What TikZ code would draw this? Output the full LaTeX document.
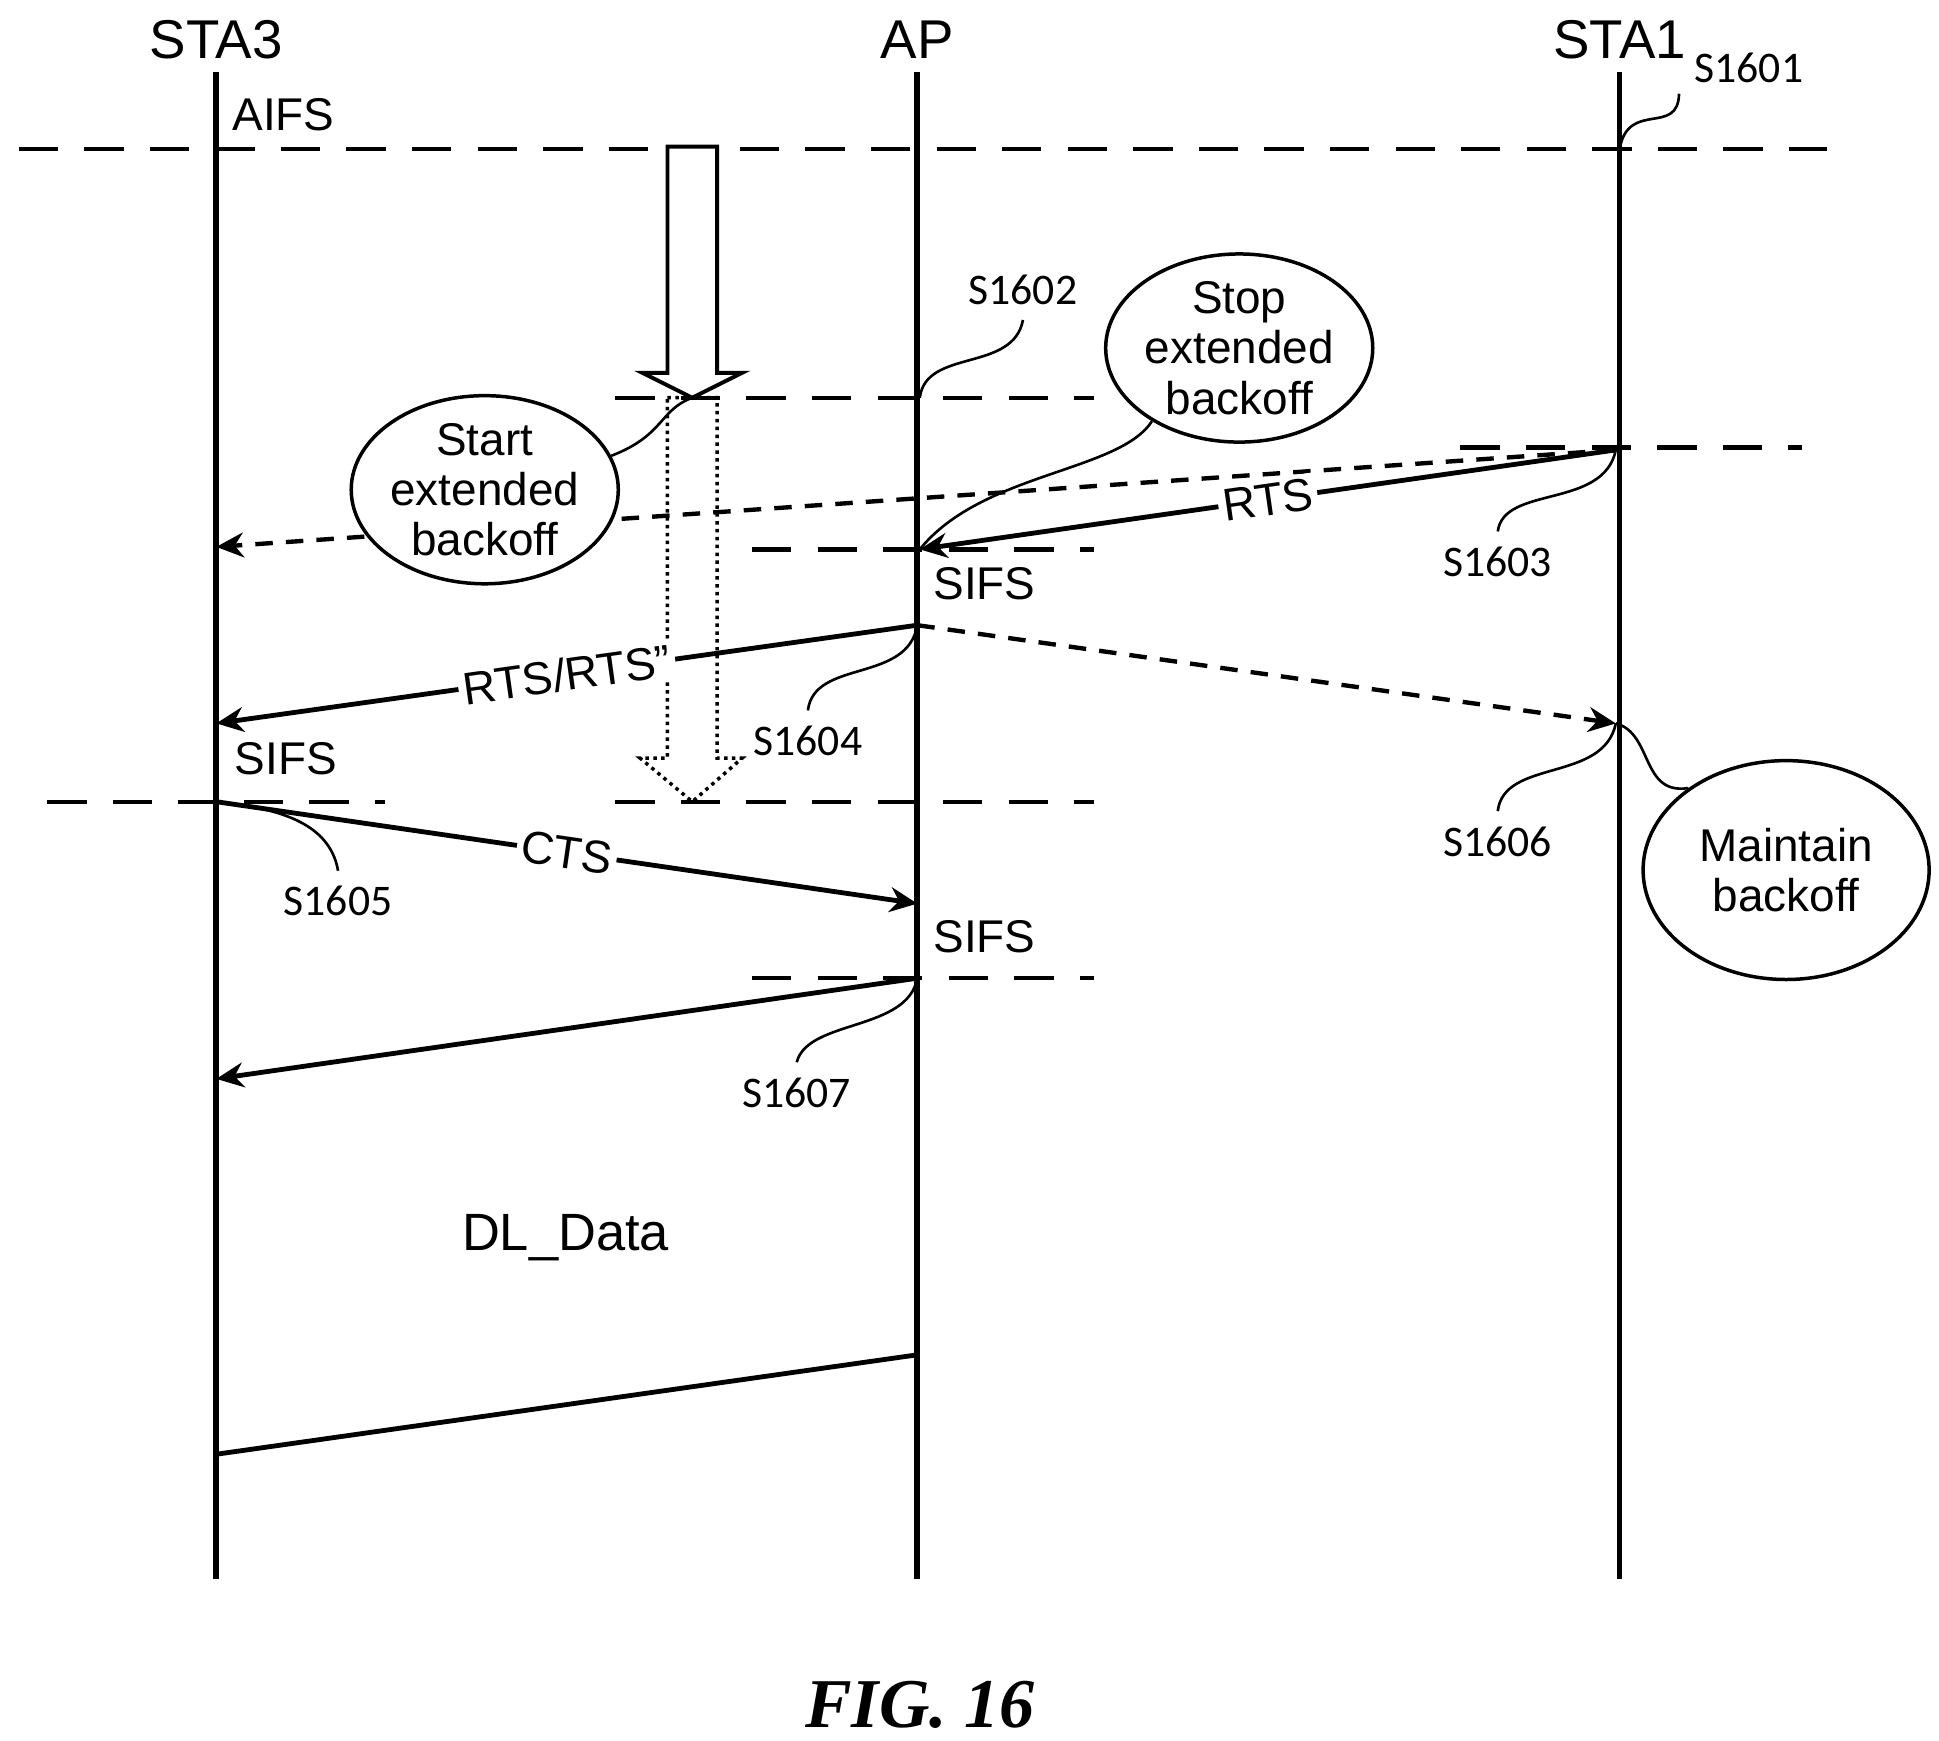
\documentclass[tikz,border=0pt]{standalone}
\usepackage{fontspec}
\setmainfont{Liberation Sans}
\newfontfamily\stepfont{Carlito}
\newfontfamily\figfont{Liberation Serif}
\usetikzlibrary{arrows.meta,shapes.geometric}
\tikzset{
  life/.style={line width=1.3pt},
  msg/.style={line width=1.1pt,-{Stealth[length=2.2mm,width=2mm]}},
  dmsg/.style={line width=1pt,dash pattern=on 4pt off 3pt,-{Stealth[length=2.2mm,width=2mm]}},
  tline/.style={line width=1pt,dash pattern=on 9pt off 6pt},
  lead/.style={line width=0.6pt},
  steplbl/.style={font=\stepfont\fontsize{10}{12}\selectfont},
  lbl/.style={font=\fontsize{10.5}{12.5}\selectfont},
  bub/.style={ellipse,draw,line width=0.8pt,align=center,font=\fontsize{10.5}{11.5}\selectfont,inner sep=0pt}
}
\begin{document}
\begin{tikzpicture}[x=0.01cm,y=-0.01cm]
	\useasboundingbox (0,0) rectangle (1560,1400);
	% lifelines
	\node[font=\fontsize{12.5}{15}\selectfont] (sta3) at (174,32) {STA3};
	\node[font=\fontsize{12.5}{15}\selectfont] (ap) at (738,32) {AP};
	\node[font=\fontsize{12.5}{15}\selectfont] (sta1) at (1303,32) {STA1};
	\draw[life] (174,58) -- (174,1270);
	\draw[life] (738,58) -- (738,1270);
	\draw[life] (1303,58) -- (1303,1270);
	% time marks
	\draw[tline] (15,120) -- (1470,120);
	\draw[tline] (495,320) -- (880,320);
	\draw[tline] (1175,360) -- (1450,360);
	\draw[tline] (605,442) -- (880,442);
	\draw[tline] (38,645) -- (310,645);
	\draw[tline] (495,645) -- (880,645);
	\draw[tline] (605,787) -- (880,787);
	% backoff arrows
	\draw[line width=0.9pt,fill=white] (537,118) -- (577,118) -- (577,300) -- (597,300) -- (557,320) -- (517,300) -- (537,300) -- cycle;
	\draw[line width=0.8pt,densely dotted] (537,320) -- (577,320) -- (577,610) -- (597,610) -- (557,645) -- (515,610) -- (537,610) -- cycle;
	% coordinates
	\coordinate (S1a) at (1300,362);
	\coordinate (APa) at (740,442);
	\coordinate (S3a) at (174,440);
	\coordinate (APb) at (738,503);
	\coordinate (S3b) at (174,582);
	\coordinate (S1b) at (1300,582);
	\coordinate (S3c) at (174,645);
	\coordinate (APc) at (738,727);
	\coordinate (APd) at (738,787);
	\coordinate (S3d) at (174,868);
	\coordinate (APe) at (738,1090);
	\coordinate (S3e) at (174,1170);
	% messages
	\draw[dmsg] (S1a) -- (S3a);
	\draw[msg] (S1a) -- node[sloped,fill=white,inner sep=1pt,lbl,pos=0.5] {RTS} (APa);
	\draw[dmsg] (APb) -- (S1b);
	\draw[msg] (APb) -- node[sloped,fill=white,inner sep=1pt,lbl,pos=0.5] {RTS/RTS''} (S3b);
	\draw[msg] (S3c) -- node[sloped,fill=white,inner sep=1pt,lbl,pos=0.5] {CTS} (APc);
	\draw[msg] (APd) -- (S3d);
	\draw[line width=1.1pt] (APe) -- (S3e);
	% bubbles
	\node[bub,minimum width=1.94cm,minimum height=1.5cm,fill=white] (start) at (390,394) {Start\\extended\\backoff};
	\node[bub,minimum width=1.94cm,minimum height=1.5cm,fill=white] (stop) at (997,280) {Stop\\extended\\backoff};
	\node[bub,minimum width=2.3cm,minimum height=1.76cm] (maint) at (1437,700) {Maintain\\backoff};
	\draw[lead] (557,320) .. controls (530,330) and (535,350) .. (start.15);
	\draw[lead] (stop.220) .. controls (900,380) and (790,380) .. (APa);
	\draw[lead] (S1b) .. controls (1330,590) and (1320,640) .. (maint.140);
	% texts
	\node[lbl] (aifs) at (228,92) {AIFS};
	\node[lbl] (sifs1) at (792,470) {SIFS};
	\node[lbl] (sifs2) at (230,610) {SIFS};
	\node[lbl] (sifs3) at (792,754) {SIFS};
	\node[lbl,font=\fontsize{12}{14}\selectfont] (dl) at (455,996) {DL\_Data};
	% step labels
	\node[steplbl] (s1601) at (1407,55) {S1601};
	\node[steplbl] (s1602) at (823,233) {S1602};
	\node[steplbl] (s1603) at (1205,452) {S1603};
	\node[steplbl] (s1604) at (650,596) {S1604};
	\node[steplbl] (s1605) at (272,725) {S1605};
	\node[steplbl] (s1606) at (1205,677) {S1606};
	\node[steplbl] (s1607) at (641,879) {S1607};
	\draw[lead] (1303,120) .. controls (1310,80) and (1350,110) .. (s1601.200);
	\draw[lead] (740,320) .. controls (745,280) and (815,300) .. (s1602.270);
	\draw[lead] (S1a) .. controls (1290,410) and (1210,390) .. (s1603.90);
	\draw[lead] (APb) .. controls (730,550) and (655,530) .. (s1604.90);
	\draw[lead] (S3c) .. controls (220,650) and (265,660) .. (s1605.90);
	\draw[lead] (S1b) .. controls (1290,630) and (1210,610) .. (s1606.90);
	\draw[lead] (APd) .. controls (730,830) and (650,820) .. (s1607.90);
	% caption
	\node[font=\figfont\bfseries\itshape\fontsize{16}{19}\selectfont] (fig) at (740,1372) {FIG. 16};
\end{tikzpicture}
\end{document}
